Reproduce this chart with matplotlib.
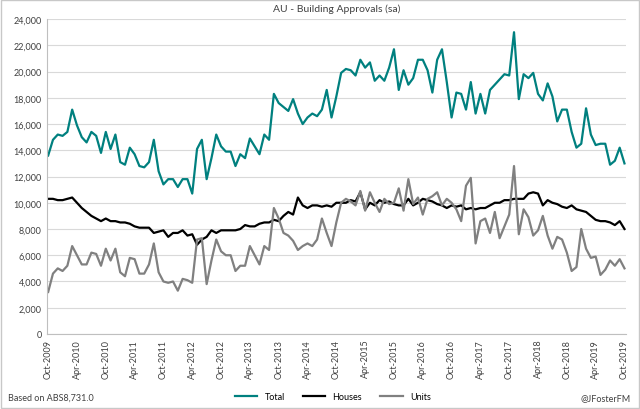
import matplotlib
matplotlib.use("Agg")
import matplotlib.pyplot as plt
import matplotlib.ticker as mticker
import numpy as np

plt.rcParams["font.family"] = ["Lato", "DejaVu Sans"]

# monthly, Oct-2009 .. Oct-2019, thousands
total = [
    13.6, 14.8, 15.2, 15.1, 15.4, 17.1, 15.9, 15.0, 14.6, 15.4,
    15.1, 13.8, 15.4, 14.1, 15.2, 13.1, 12.9, 14.2, 13.7, 12.8,
    12.7, 13.1, 14.8, 12.4, 11.4, 11.8, 11.8, 11.2, 11.8, 11.8,
    10.7, 14.1, 14.8, 11.8, 13.4, 15.2, 14.3, 13.9, 13.9, 12.8,
    13.7, 13.4, 14.9, 14.3, 13.7, 15.2, 14.8, 18.3, 17.6, 17.3,
    17.0, 17.9, 16.8, 16.0, 16.5, 16.8, 16.6, 17.1, 18.6, 16.5,
    18.1, 19.9, 20.2, 20.1, 19.7, 20.9, 20.3, 20.7, 19.3, 19.7,
    19.3, 20.3, 21.7, 18.6, 20.1, 19.0, 19.5, 20.9, 20.9, 20.1,
    18.4, 20.9, 21.7, 19.2, 16.5, 18.4, 18.3, 17.1, 19.2, 16.8,
    18.3, 16.8, 18.6, 19.0, 19.4, 19.8, 19.7, 23.0, 17.9, 19.8,
    19.5, 19.9, 18.3, 17.8, 19.1, 18.1, 16.2, 17.1, 17.1, 15.4,
    14.2, 14.5, 17.2, 15.2, 14.4, 14.5, 14.5, 12.9, 13.2, 14.2,
    13.0,
]
houses = [
    10.3, 10.3, 10.2, 10.2, 10.3, 10.4, 10.0, 9.6, 9.3, 9.0,
    8.8, 8.6, 8.8, 8.6, 8.6, 8.5, 8.5, 8.4, 8.2, 8.1,
    8.1, 8.1, 7.7, 7.8, 7.9, 7.4, 7.7, 7.7, 7.9, 7.5,
    7.6, 6.8, 7.2, 7.4, 7.9, 7.7, 7.9, 7.9, 7.9, 7.9,
    8.0, 8.3, 8.2, 8.2, 8.4, 8.5, 8.5, 8.7, 8.6, 9.0,
    9.3, 9.1, 10.4, 9.8, 9.6, 9.8, 9.8, 9.7, 9.8, 9.7,
    10.0, 10.0, 10.0, 10.2, 10.1, 10.8, 9.5, 10.0, 9.8, 10.2,
    10.0, 10.1, 9.9, 9.8, 9.8, 10.3, 9.8, 10.0, 10.3, 10.2,
    10.1, 9.9, 9.8, 9.6, 9.8, 9.7, 9.8, 9.5, 9.6, 9.5,
    9.6, 9.6, 9.8, 10.0, 10.0, 10.2, 10.2, 10.3, 10.3, 10.3,
    10.7, 10.8, 10.7, 9.8, 10.2, 10.0, 9.9, 9.7, 9.6, 9.8,
    9.5, 9.4, 9.3, 9.0, 8.7, 8.6, 8.6, 8.5, 8.3, 8.6,
    8.0,
]
units = [
    3.2, 4.6, 5.0, 4.8, 5.2, 6.7, 6.0, 5.3, 5.3, 6.2,
    6.1, 5.2, 6.5, 5.6, 6.5, 4.7, 4.4, 5.8, 5.7, 4.6,
    4.6, 5.3, 6.9, 4.7, 4.0, 3.9, 4.0, 3.3, 4.2, 4.1,
    3.9, 7.2, 7.3, 3.8, 5.6, 7.2, 6.3, 6.0, 6.0, 4.8,
    5.2, 5.2, 6.7, 6.0, 5.3, 6.7, 6.4, 9.6, 8.8, 7.7,
    7.5, 7.1, 6.4, 6.7, 6.9, 6.7, 7.2, 8.8, 7.7, 6.7,
    8.5, 10.0, 10.3, 10.1, 9.8, 10.9, 9.4, 10.8, 10.0, 9.3,
    10.3, 9.9, 10.0, 11.1, 9.4, 11.8, 9.9, 10.4, 9.1, 10.3,
    10.5, 10.8, 9.8, 10.3, 10.0, 9.5, 8.6, 11.3, 11.9, 6.9,
    8.6, 8.8, 7.7, 9.3, 7.3, 8.2, 9.1, 12.8, 7.6, 9.5,
    8.9, 7.5, 7.9, 9.0, 7.5, 6.5, 7.4, 7.2, 6.2, 4.8,
    5.1, 8.0, 6.5, 5.8, 5.9, 4.5, 4.9, 5.6, 5.2, 5.7,
    5.0,
]

months = np.arange(len(total))
tick_labels = []
for i in range(0, len(total), 6):
    y = 2009 + (9 + i) // 12
    m = "Oct" if i % 12 == 0 else "Apr"
    tick_labels.append(f"{m}-{y}")

fig = plt.figure(figsize=(6.4, 4.1), dpi=100)
ax = fig.add_axes([0.073, 0.183, 0.905, 0.768])
fig.patches.append(plt.Rectangle((0.002, 0.002), 0.996, 0.996, transform=fig.transFigure,
                                 fill=False, edgecolor="#c8c8c8", lw=1))

ax.plot(months, np.array(total) * 1000, color="#00807f", lw=1.6, label="Total")
ax.plot(months, np.array(houses) * 1000, color="black", lw=1.6, label="Houses")
ax.plot(months, np.array(units) * 1000, color="#808080", lw=1.6, label="Units")

ax.set_xlim(-0.3, len(total) - 0.7)
ax.set_ylim(0, 24000)
ax.yaxis.set_major_locator(mticker.MultipleLocator(2000))
ax.yaxis.set_major_formatter(mticker.StrMethodFormatter("{x:,.0f}"))
ax.set_xticks(months[::6])
ax.set_xticklabels(tick_labels, rotation=90)
ax.tick_params(labelsize=6.5, colors="#404040", length=0)
ax.grid(axis="y", color="#d9d9d9", lw=0.8)
for s in ["top", "right"]:
    ax.spines[s].set_visible(False)
ax.spines["left"].set_color("#bfbfbf")
ax.spines["bottom"].set_color("#bfbfbf")

ax.set_title("AU - Building Approvals (sa)", fontsize=7.5, color="#404040", pad=6)
fig.legend(loc="lower center", bbox_to_anchor=(0.52, 0.0), ncol=3, frameon=False,
           fontsize=6.5, handlelength=2.5, columnspacing=2)
fig.text(0.012, 0.022, "Based on ABS8,731.0", fontsize=6.5, color="#404040")
fig.text(0.985, 0.022, "@JFosterFM", fontsize=6.5, color="#404040", ha="right")

fig.savefig("out.png", dpi=100)
